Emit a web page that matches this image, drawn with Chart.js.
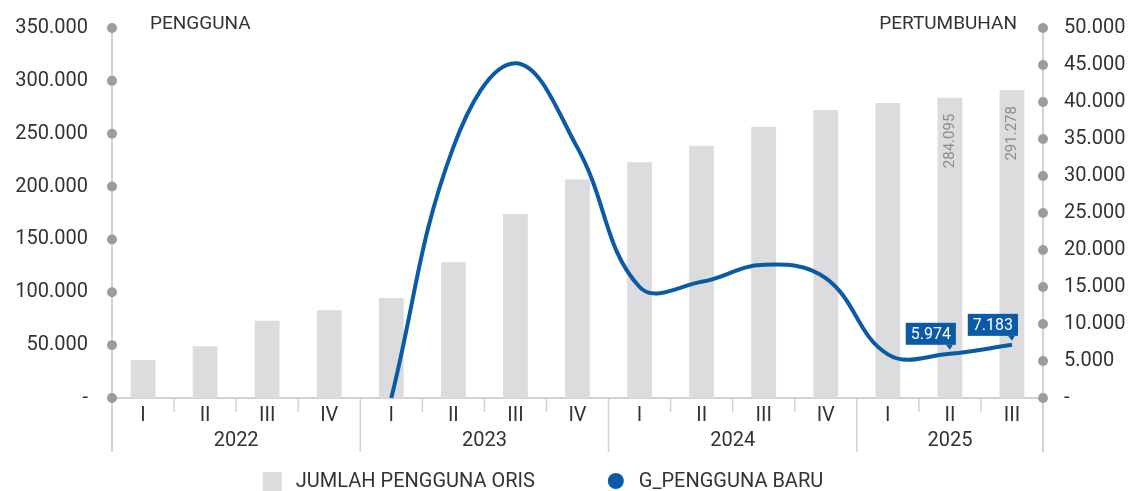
<!DOCTYPE html>
<html>
<head>
<meta charset="utf-8">
<script src="https://cdn.jsdelivr.net/npm/chart.js@4.4.1/dist/chart.umd.min.js"></script>
<style>
	html, body { margin: 0; padding: 0; background: #fff; }
	#wrapper { width: 1131px; height: 491px; }
</style>
</head>
<body>
<div id="wrapper"><canvas id="chart-oris"></canvas></div>
<script>
// quarters and the year each one belongs to
const quarters = ["I", "II", "III", "IV", "I", "II", "III", "IV", "I", "II", "III", "IV", "I", "II", "III"];
const years = ["2022", "2022", "2022", "2022", "2023", "2023", "2023", "2023", "2024", "2024", "2024", "2024", "2025", "2025", "2025"];

// JUMLAH PENGGUNA ORIS (left axis)
const totalUsers = [36000, 49000, 73000, 83000, 94500, 128500, 174000, 207000, 223000, 238500, 256500, 272500, 279000, 284095, 291278];
// G_PENGGUNA BARU (right axis)
const newUsers = [null, null, null, null, 0, 33900, 45250, 33800, 15000, 15700, 18000, 16200, 5900, 5974, 7183];

// which points get a value label
const labeledBars = [13, 14];
const labeledPoints = [13, 14];

const FONT = "Roboto, 'Noto Sans', sans-serif";
const TEXT = "#333333";
const BAR_COLOR = "#dcdcde";
const LINE_COLOR = "#0b5aa5";
const AXIS_COLOR = "#d2d2d2";
const DOT_COLOR = "#9c9c9c";

function fmt(v) {
	if (v === 0) return "-";
	return v.toString().replace(/\B(?=(\d{3})+(?!\d))/g, ".");
}

function fixAxis(width) {
	return (scale) => {
		scale.width = width;
		scale.paddingTop = 0;
		scale.paddingBottom = 0;
	};
}

const decorations = {
	id: "decorations",
	beforeDatasetsDraw(chart) {
		const { ctx, chartArea } = chart;
		const x = chart.scales.x;
		const base = chartArea.bottom;
		ctx.save();
		ctx.strokeStyle = AXIS_COLOR;
		ctx.lineWidth = 2;

		// axis lines
		ctx.beginPath();
		ctx.moveTo(chartArea.left, chartArea.top);
		ctx.lineTo(chartArea.left, base + 54);
		ctx.moveTo(chartArea.right, chartArea.top);
		ctx.lineTo(chartArea.right, base + 54);
		ctx.moveTo(chartArea.left, base);
		ctx.lineTo(chartArea.right, base);
		ctx.stroke();

		// quarter / year separators
		ctx.lineWidth = 1.5;
		for (let i = 1; i < quarters.length; i++) {
			let sx = (x.getPixelForValue(i - 1) + x.getPixelForValue(i)) / 2;
			let long = years[i] !== years[i - 1];
			ctx.beginPath();
			ctx.moveTo(sx, base);
			ctx.lineTo(sx, base + (long ? 54 : 14));
			ctx.stroke();
		}

		// year labels
		ctx.fillStyle = TEXT;
		ctx.font = "20px " + FONT;
		ctx.textAlign = "center";
		ctx.textBaseline = "middle";
		let start = 0;
		for (let i = 1; i <= years.length; i++) {
			if (i === years.length || years[i] !== years[start]) {
				let cx = (x.getPixelForValue(start) + x.getPixelForValue(i - 1)) / 2;
				ctx.fillText(years[start], cx, base + 43);
				start = i;
			}
		}
		ctx.restore();
	},
	afterDatasetsDraw(chart) {
		const { ctx, chartArea } = chart;
		ctx.save();

		// tick dots on both value axes
		ctx.fillStyle = DOT_COLOR;
		for (const [id, px] of [["y", chartArea.left], ["y1", chartArea.right]]) {
			const sc = chart.scales[id];
			sc.ticks.forEach((t) => {
				ctx.beginPath();
				ctx.arc(px, sc.getPixelForValue(t.value), 5, 0, Math.PI * 2);
				ctx.fill();
			});
		}

		// axis titles
		ctx.fillStyle = TEXT;
		ctx.font = "19px " + FONT;
		ctx.textBaseline = "middle";
		ctx.textAlign = "left";
		ctx.fillText("PENGGUNA", chartArea.left + 38, chartArea.top - 4);
		ctx.textAlign = "right";
		ctx.fillText("PERTUMBUHAN", chartArea.right - 26, chartArea.top - 4);

		// rotated labels inside the bars
		const barMeta = chart.getDatasetMeta(0);
		ctx.fillStyle = "#8c8c8c";
		ctx.font = "15px " + FONT;
		labeledBars.forEach((i) => {
			const bar = barMeta.data[i];
			ctx.save();
			ctx.translate(bar.x, bar.y + 16);
			ctx.rotate(-Math.PI / 2);
			ctx.textAlign = "right";
			ctx.textBaseline = "middle";
			ctx.fillText(fmt(totalUsers[i]), 0, 0);
			ctx.restore();
		});

		// callout boxes for the line
		const lineMeta = chart.getDatasetMeta(1);
		ctx.font = "16px " + FONT;
		labeledPoints.forEach((i) => {
			const pt = lineMeta.data[i];
			const txt = fmt(newUsers[i]);
			const w = ctx.measureText(txt).width + 10;
			const h = 22;
			const right = pt.x + 6;
			const bottom = pt.y - 9;
			ctx.fillStyle = LINE_COLOR;
			ctx.fillRect(right - w, bottom - h, w, h);
			ctx.beginPath();
			ctx.moveTo(pt.x - 4, bottom);
			ctx.lineTo(pt.x + 3, bottom);
			ctx.lineTo(pt.x, pt.y - 4);
			ctx.closePath();
			ctx.fill();
			ctx.fillStyle = "#ffffff";
			ctx.textAlign = "center";
			ctx.textBaseline = "middle";
			ctx.fillText(txt, right - w / 2, bottom - h / 2 + 1);
		});

		// legend
		const legendY = chart.height - 10;
		const items = [
			{ text: chart.data.datasets[0].label, color: BAR_COLOR, shape: "rect" },
			{ text: chart.data.datasets[1].label, color: LINE_COLOR, shape: "circle" },
		];
		ctx.font = "20px " + FONT;
		ctx.textAlign = "left";
		ctx.textBaseline = "middle";
		const gap = 70;
		let total = 0;
		items.forEach((it) => {
			it.w = 34 + ctx.measureText(it.text).width;
			total += it.w;
		});
		total += gap;
		let lx = chart.width / 2 - total / 2 - 22;
		items.forEach((it) => {
			ctx.fillStyle = it.color;
			if (it.shape === "rect") {
				ctx.fillRect(lx, legendY - 9, 19, 19);
			} else {
				ctx.beginPath();
				ctx.arc(lx + 10, legendY, 8, 0, Math.PI * 2);
				ctx.fill();
			}
			ctx.fillStyle = TEXT;
			ctx.fillText(it.text, lx + 33, legendY + 1);
			lx += it.w + gap;
		});

		ctx.restore();
	},
};

const ctx = document.getElementById("chart-oris").getContext("2d");

new Chart(ctx, {
	type: "bar",
	data: {
		labels: quarters,
		datasets: [
			{
				label: "JUMLAH PENGGUNA ORIS",
				data: totalUsers,
				backgroundColor: BAR_COLOR,
				yAxisID: "y",
				barPercentage: 0.5,
				categoryPercentage: 0.8,
				order: 1,
			},
			{
				label: "G_PENGGUNA BARU",
				type: "line",
				data: newUsers,
				borderColor: LINE_COLOR,
				borderWidth: 4,
				tension: 0.4,
				pointRadius: 0,
				spanGaps: false,
				yAxisID: "y1",
				order: 0,
			},
		],
	},
	options: {
		responsive: true,
		maintainAspectRatio: false,
		animation: false,
		layout: {
			padding: { top: 28, bottom: 38, left: 0, right: 0 },
		},
		scales: {
			x: {
				offset: true,
				grid: { display: false, drawTicks: false },
				border: { display: false },
				ticks: {
					color: TEXT,
					font: { family: FONT, size: 20 },
					padding: 6,
					autoSkip: false,
					maxRotation: 0,
				},
				afterFit: (scale) => {
					scale.height = 55;
				},
			},
			y: {
				position: "left",
				min: 0,
				max: 350000,
				grid: { display: false, drawTicks: false },
				border: { display: false },
				ticks: {
					stepSize: 50000,
					color: TEXT,
					font: { family: FONT, size: 20 },
					padding: 24,
					callback: (v) => fmt(v),
				},
				afterFit: fixAxis(112),
			},
			y1: {
				position: "right",
				min: 0,
				max: 50000,
				grid: { display: false, drawTicks: false },
				border: { display: false },
				ticks: {
					stepSize: 5000,
					color: TEXT,
					font: { family: FONT, size: 20 },
					padding: 21,
					callback: (v) => fmt(v),
				},
				afterFit: fixAxis(88),
			},
		},
		plugins: {
			legend: { display: false },
			tooltip: { enabled: false },
		},
	},
	plugins: [decorations],
});
</script>
</body>
</html>
